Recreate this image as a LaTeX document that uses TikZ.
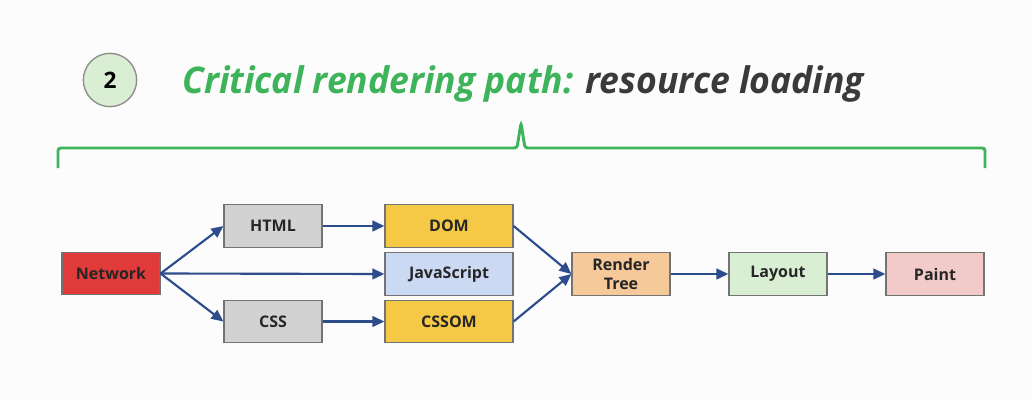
\documentclass[tikz,border=0pt]{standalone}
\usepackage{fontspec}
\setmainfont{Open Sans}
\usetikzlibrary{arrows.meta}
\definecolor{crpgreen}{HTML}{3DB35A}
\definecolor{crpgrey}{HTML}{3A3A3A}
\definecolor{arrowblue}{HTML}{2D4C8C}
\definecolor{netred}{HTML}{E03A3A}
\definecolor{resgrey}{HTML}{D2D2D2}
\definecolor{domyellow}{HTML}{F5C945}
\definecolor{jsblue}{HTML}{CBDAF2}
\definecolor{rtorange}{HTML}{F5C99A}
\definecolor{laygreen}{HTML}{DAEED3}
\definecolor{paintpink}{HTML}{F2CACA}
\begin{document}
\begin{tikzpicture}[x=0.75pt,y=-0.75pt,
  box/.style={draw=black!55, line width=0.9pt, minimum height=32pt, inner sep=1pt,
    font=\fontsize{12}{12.5}\selectfont\bfseries, text=black!85, align=center},
  small/.style={box, minimum width=73.5pt},
  wide/.style={box, minimum width=96pt},
  flow/.style={draw=arrowblue, line width=1.6pt, -{Triangle[length=9pt,width=8pt]}}]
\useasboundingbox (0,0) rectangle (1032,400);
\fill[white!99!black] (0,0) rectangle (1032,400);
% heading
\node[circle, draw=black!45, line width=1pt, fill=laygreen, minimum size=40pt,
  font=\fontsize{17}{17}\selectfont\bfseries] (num) at (110,80) {2};
\node[anchor=west, inner sep=0pt, xscale=0.97, font=\fontsize{27.5}{28}\selectfont\bfseries\itshape] (title) at (182,84)
  {\textcolor{crpgreen}{Critical rendering path:} \textcolor{crpgrey}{resource loading}};
\draw[crpgreen, line width=2.2pt, rounded corners=2pt]
  (58,168) -- (58,148) -- (517,148) -- (521,123) -- (525,148) -- (985,148) -- (985,168);
% boxes
\node[small, fill=netred] (net) at (111,273.5) {Network};
\node[small, fill=resgrey] (html) at (273,226) {HTML};
\node[small, fill=resgrey] (css) at (273,321.5) {CSS};
\node[wide, fill=domyellow] (dom) at (449,226) {DOM};
\node[wide, fill=jsblue] (js) at (449,274) {JavaScript};
\node[wide, fill=domyellow] (cssom) at (449,321.5) {CSSOM};
\node[small, fill=rtorange, font=\fontsize{12}{14}\selectfont\bfseries] (rt) at (621,274) {Render\\Tree};
\node[small, fill=laygreen] (lay) at (778,274) {Layout};
\node[small, fill=paintpink] (paint) at (935,274) {Paint};
% connectors
\draw[flow] (net.east) -- (html.west);
\draw[flow] (net.east) -- (js.west);
\draw[flow] (net.east) -- (css.west);
\draw[flow] (html) -- (dom);
\draw[flow] (css) -- (cssom);
\draw[flow] (dom.east) -- (rt.west);
\draw[flow] (cssom.east) -- (rt.west);
\draw[flow] (rt) -- (lay);
\draw[flow] (lay) -- (paint);
\end{tikzpicture}
\end{document}
